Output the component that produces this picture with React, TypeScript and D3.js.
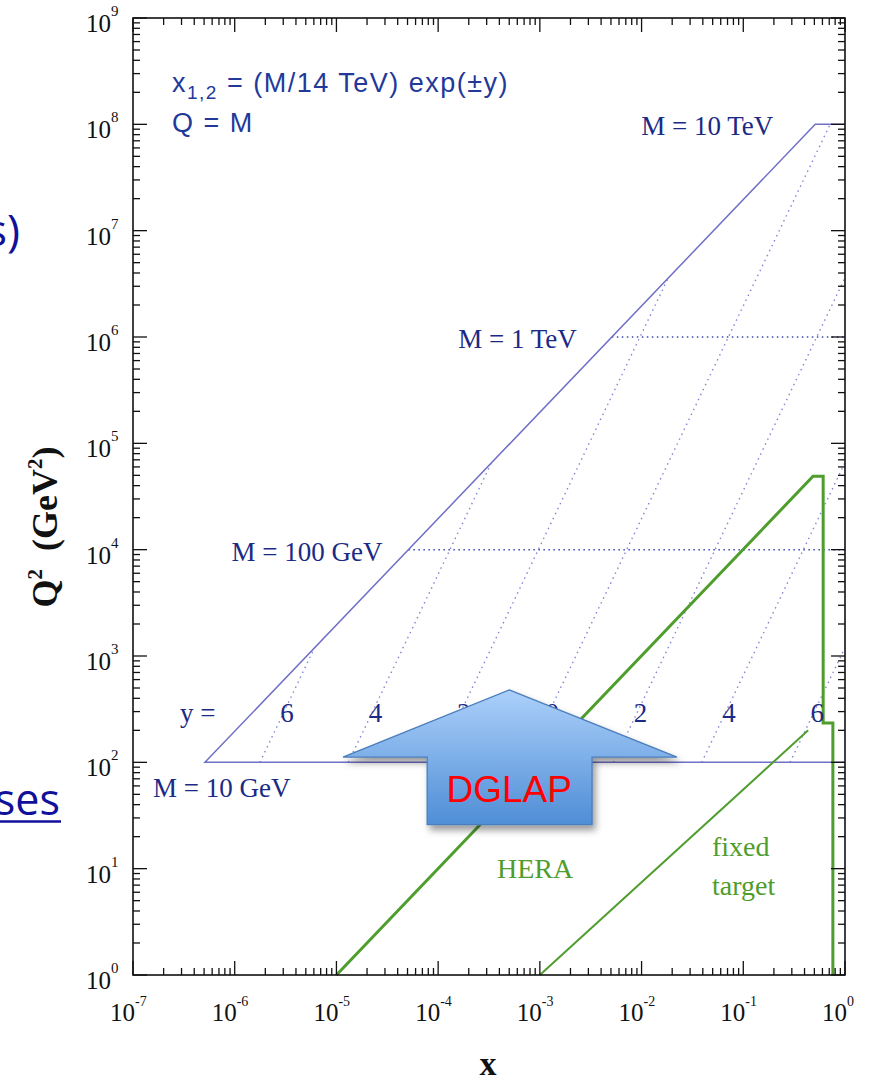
import * as d3 from "d3";
import React from "react";

// axis ranges
const xDomain = [1e-7, 1];
const q2Domain = [1, 1e9];
const xDecades = [-7, -6, -5, -4, -3, -2, -1, 0];
const yDecades = [0, 1, 2, 3, 4, 5, 6, 7, 8, 9];

// kinematic boundary of the LHC (x = Q^2 / s), plus Q = 10 GeV and 10 TeV caps
const boundaryX = [1, 0.51, 5.1e-7, 1];
const boundaryQ2 = [1e8, 1e8, 100, 100];

// dotted lines of constant mass
const massQ2 = [1e4, 1e6];
const massXStart = [5.1e-5, 5.1e-3];

// lines of constant rapidity
const rapidity = [-6, -4, -2, 0, 2, 4, 6];
const rapX0 = [1.77e-6, 1.31e-5, 9.67e-5, 7.14e-4, 5.28e-3, 3.9e-2, 0.288];
const rapX1 = [6.1e-6, 3.35e-4, 1.83e-2, 0.714, 1, 1, 1];
const rapQ1 = [1.2e3, 6.6e4, 3.6e6, 1e8, 3.6e6, 6.6e4, 1.2e3];
const rapLabelX = [3.06e-6, 2.26e-5, 1.67e-4, 1.24e-3, 9.13e-3, 6.75e-2, 0.4985];
const rapLabelQ2 = 300;

// HERA and fixed target regions
const heraX = [1e-5, 0.485, 0.61, 0.61, 0.76, 0.76];
const heraQ2 = [1, 4.9e4, 4.9e4, 235, 235, 1];
const fixedX = [1e-3, 0.434];
const fixedQ2 = [1, 200];

// DGLAP arrow outline (x, Q^2)
const arrowX = [5e-4, 2.23e-2, 3.26e-3, 3.26e-3, 7.8e-5, 7.8e-5, 1.16e-5];
const arrowQ2 = [480, 112, 112, 26, 26, 112, 112];

const W = 870, H = 1081;
const LEFT = 133, RIGHT = 845, TOP = 18, BOTTOM = 975;

const BLUE = "#6f70c6";
const NAVY = "#1b2a85";
const GREEN = "#4f9d2c";
const SERIF = "'Liberation Serif', 'Times New Roman', serif";
const SANS = "'Liberation Sans', Arial, sans-serif";

export default function App() {
    const x = d3.scaleLog().domain(xDomain).range([LEFT, RIGHT]);
    const y = d3.scaleLog().domain(q2Domain).range([BOTTOM, TOP]);

    const line = d3.line<[number, number]>().x(d => x(d[0])).y(d => y(d[1]));
    const zipPts = (xs: number[], qs: number[]) => xs.map((v, i) => [v, qs[i]] as [number, number]);

    // ticks
    const minorX: number[] = [];
    xDecades.slice(0, -1).forEach(e => { for (let k = 2; k <= 9; k++) minorX.push(k * Math.pow(10, e)); });
    const minorY: number[] = [];
    yDecades.slice(0, -1).forEach(e => { for (let k = 2; k <= 9; k++) minorY.push(k * Math.pow(10, e)); });

    const MAJ = 14, MIN = 7;
    const ticks: JSX.Element[] = [];
    xDecades.forEach(e => {
        const px = x(Math.pow(10, e));
        ticks.push(<line key={"xb" + e} x1={px} x2={px} y1={BOTTOM} y2={BOTTOM - MAJ} />);
        ticks.push(<line key={"xt" + e} x1={px} x2={px} y1={TOP} y2={TOP + MAJ} />);
    });
    minorX.forEach((v, i) => {
        const px = x(v);
        ticks.push(<line key={"mxb" + i} x1={px} x2={px} y1={BOTTOM} y2={BOTTOM - MIN} />);
        ticks.push(<line key={"mxt" + i} x1={px} x2={px} y1={TOP} y2={TOP + MIN} />);
    });
    yDecades.forEach(e => {
        const py = y(Math.pow(10, e));
        ticks.push(<line key={"yl" + e} x1={LEFT} x2={LEFT + MAJ} y1={py} y2={py} />);
        ticks.push(<line key={"yr" + e} x1={RIGHT} x2={RIGHT - MAJ} y1={py} y2={py} />);
    });
    minorY.forEach((v, i) => {
        const py = y(v);
        ticks.push(<line key={"myl" + i} x1={LEFT} x2={LEFT + MIN} y1={py} y2={py} />);
        ticks.push(<line key={"myr" + i} x1={RIGHT} x2={RIGHT - MIN} y1={py} y2={py} />);
    });

    return (
        <svg width={W} height={H} style={{ position: "absolute", left: 0, top: 0, background: "#fff" }}>
            <defs>
                <linearGradient id="arrowFill" x1="0" y1="0" x2="0" y2="1">
                    <stop offset="0%" stopColor="#acd0fa" />
                    <stop offset="100%" stopColor="#4f8ed6" />
                </linearGradient>
                <filter id="shadow" x="-20%" y="-20%" width="140%" height="150%">
                    <feDropShadow dx="3" dy="5" stdDeviation="3.5" floodColor="#000" floodOpacity="0.4" />
                </filter>
            </defs>

            {/* slide text cut off at the left edge */}
            <text x={20} y={246} textAnchor="end" fontFamily="'Open Sans', sans-serif" fontSize={44} fill="#10109a">s)</text>
            <text x={60} y={815} textAnchor="end" fontFamily="'Open Sans', sans-serif" fontSize={43} fill="#10109a">ses</text>
            <line x1={0} x2={61} y1={821.5} y2={821.5} stroke="#10109a" strokeWidth={2.5} />

            {/* rapidity lines */}
            {rapidity.map((r, i) => (
                <line key={"r" + r} x1={x(rapX0[i])} y1={y(100)} x2={x(rapX1[i])} y2={y(rapQ1[i])}
                      stroke="#8585d6" strokeWidth={1.4} strokeDasharray="1.5 4" />
            ))}

            {/* constant mass dotted lines */}
            {massQ2.map((q, i) => (
                <line key={"m" + q} x1={x(massXStart[i])} x2={x(1)} y1={y(q)} y2={y(q)}
                      stroke="#3a4ab2" strokeWidth={1.5} strokeDasharray="1.5 3.5" />
            ))}

            {/* LHC boundary */}
            <path d={line(zipPts(boundaryX, boundaryQ2)) || ""} fill="none" stroke={BLUE} strokeWidth={1.5} />

            {/* HERA + fixed target */}
            <path d={line(zipPts(heraX, heraQ2)) || ""} fill="none" stroke={GREEN} strokeWidth={3} />
            <path d={line(zipPts(fixedX, fixedQ2)) || ""} fill="none" stroke={GREEN} strokeWidth={2} />

            {/* ticks and frame */}
            <g stroke="#111" strokeWidth={1.3}>{ticks}</g>
            <rect x={LEFT} y={TOP} width={RIGHT - LEFT} height={BOTTOM - TOP} fill="none" stroke="#111" strokeWidth={1.6} />

            {/* tick labels */}
            <g fontFamily={SERIF} fill="#111">
                {xDecades.map(e => (
                    <text key={"xl" + e} x={x(Math.pow(10, e)) - 23} y={1021} fontSize={25}>
                        10<tspan dy={-15} fontSize={14}>{e}</tspan>
                    </text>
                ))}
                {yDecades.map(e => (
                    <text key={"yl" + e} x={86} y={y(Math.pow(10, e)) + 14} fontSize={25}>
                        10<tspan dy={-16} fontSize={15}>{e}</tspan>
                    </text>
                ))}
            </g>

            {/* axis titles */}
            <text x={488} y={1075} textAnchor="middle" fontFamily={SERIF} fontWeight="bold" fontSize={34} fill="#111">x</text>
            <text transform="translate(57,527) rotate(-90)" textAnchor="middle" fontFamily={SERIF} fontWeight="bold"
                  fontSize={36} fill="#111" style={{ whiteSpace: "pre" }}>
                Q<tspan dy={-15} fontSize={21}>2</tspan><tspan dy={15}>  (GeV</tspan><tspan dy={-15} fontSize={21}>2</tspan><tspan dy={15}>)</tspan>
            </text>

            {/* formula annotation */}
            <g fontFamily={SANS} fill="#23399a" fontSize={27} letterSpacing={1.5}>
                <text x={172} y={92}>
                    x<tspan dy={7} fontSize={19}>1,2</tspan><tspan dy={-7}> = (M/14 TeV) exp(±y)</tspan>
                </text>
                <text x={172} y={132}>Q = M</text>
            </g>

            {/* mass labels */}
            <g fontFamily={SERIF} fontSize={27} fill={NAVY}>
                <text x={x(0.51) - 42} y={y(1e8) + 11} textAnchor="end">M = 10 TeV</text>
                <text x={x(5.1e-3) - 35} y={y(1e6) + 11} textAnchor="end">M = 1 TeV</text>
                <text x={x(5.1e-5) - 26} y={y(1e4) + 11} textAnchor="end">M = 100 GeV</text>
                <text x={153} y={y(100) + 35}>M = 10 GeV</text>
                <text x={180} y={y(rapLabelQ2) + 10}>y =</text>
                {rapidity.map((r, i) => (
                    <text key={"rl" + r} x={x(rapLabelX[i]) + 3} y={y(rapLabelQ2) + 10} textAnchor="middle">{Math.abs(r)}</text>
                ))}
            </g>

            {/* region labels */}
            <g fontFamily={SERIF} fontSize={28} fill={GREEN}>
                <text x={497} y={878}>HERA</text>
                <text x={712} y={856}>fixed</text>
                <text x={712} y={895}>target</text>
            </g>

            {/* DGLAP arrow */}
            <path d={(line(zipPts(arrowX, arrowQ2)) || "") + "Z"} fill="url(#arrowFill)" stroke="#4a7dbb"
                  strokeWidth={1.3} filter="url(#shadow)" />
            <text x={x(5e-4)} y={802} textAnchor="middle" fontFamily={SANS} fontSize={37} fill="#ff0000">DGLAP</text>
        </svg>
    );
}
